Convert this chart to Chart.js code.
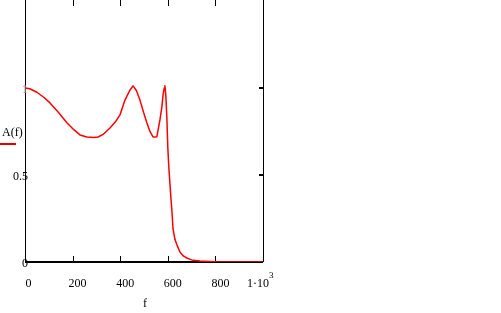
<!DOCTYPE html>
<html><head><meta charset="utf-8">
<script src="https://cdn.jsdelivr.net/npm/chart.js@4/dist/chart.umd.min.js"></script>
<style>html,body{margin:0;padding:0;background:#fff}#wrap{width:501px;height:313px;position:relative}</style>
</head><body><div id="wrap"><canvas id="c" width="501" height="313"></canvas></div>
<script>
const freqs = [0,20,50,80,105,140,176,205,231,260,290,307,330,357,380,399,420,440,454,468,483,498,512,525,538,554,567,575,580,585,588,592,596,600,604,609,613,617,622,630,638,651,665,680,700,735,800,900,1000];
const amps  = [1.0,0.995,0.975,0.945,0.914,0.86,0.80,0.76,0.73,0.718,0.715,0.718,0.735,0.77,0.805,0.845,0.93,0.985,1.012,0.985,0.93,0.86,0.80,0.75,0.718,0.72,0.816,0.89,0.96,1.0,1.012,0.95,0.83,0.66,0.55,0.45,0.37,0.30,0.19,0.13,0.10,0.057,0.035,0.023,0.012,0.006,0.001,0,0];
const xTicks = [0,200,400,600,800,1000];
const xTickLabels = ["0","200","400","600","800","1·10"];
const yTicks = [0,0.5,1];
const yTickLabels = ["0","0.5","1"];
const seriesName = "A(f)";
const xTitle = "f";

const FONT = '12px "Liberation Serif", "DejaVu Serif", serif';
const axesPlugin = {
  id: 'mcadAxes',
  beforeDatasetsDraw(chart) {
    const ctx = chart.ctx, a = chart.chartArea, xs = chart.scales.x, ys = chart.scales.y;
    ctx.save();
    ctx.strokeStyle = '#000';
    ctx.lineWidth = 1;
    ctx.beginPath();
    ctx.moveTo(a.left + 0.5, a.top); ctx.lineTo(a.left + 0.5, a.bottom);
    ctx.moveTo(a.right + 0.5, a.top); ctx.lineTo(a.right + 0.5, a.bottom);
    ctx.stroke();
    ctx.lineWidth = 2;
    ctx.beginPath();
    const y0 = ys.getPixelForValue(0);
    ctx.moveTo(a.left, y0); ctx.lineTo(a.right, y0);
    ctx.stroke();
    ctx.lineWidth = 1;
    ctx.beginPath();
    xTicks.slice(1, -1).forEach(v => {
      const px = Math.round(xs.getPixelForValue(v)) + 0.5;
      ctx.moveTo(px, a.top); ctx.lineTo(px, a.top + 6);
      ctx.moveTo(px, y0); ctx.lineTo(px, y0 - 6);
    });
    ctx.stroke();
    ctx.lineWidth = 2;
    ctx.beginPath();
    yTicks.slice(1).forEach(v => {
      const py = ys.getPixelForValue(v);
      ctx.moveTo(a.right, py); ctx.lineTo(a.right - 4, py);
    });
    ctx.stroke();
    ctx.fillStyle = '#000';
    ctx.font = FONT;
    ctx.textBaseline = 'middle';
    ctx.textAlign = 'center';
    xTicks.forEach((v, i) => {
      const px = xs.getPixelForValue(v) + 5;
      if (i === xTicks.length - 1) {
        ctx.textAlign = 'right';
        ctx.fillText(xTickLabels[i], a.right + 6, 284);
        ctx.font = '9px "Liberation Serif", serif';
        ctx.textAlign = 'left';
        ctx.fillText("3", a.right + 6, 276);
        ctx.font = FONT;
        ctx.textAlign = 'center';
      } else {
        ctx.fillText(xTickLabels[i], i === 0 ? px - 1.5 : px, 284);
      }
    });
    ctx.fillText(xTitle, (a.left + a.right) / 2 + 1, 304);
    ctx.textAlign = 'right';
    yTicks.forEach((v, i) => {
      const py = ys.getPixelForValue(v) + 2;
      ctx.fillStyle = i === 2 ? '#888' : '#000';
      ctx.fillText(yTickLabels[i], a.left + 3, py);
    });
    ctx.fillStyle = '#000';
    ctx.textAlign = 'left';
    ctx.fillText(seriesName, 2, 133);
    ctx.strokeStyle = '#e00000';
    ctx.lineWidth = 2;
    ctx.beginPath(); ctx.moveTo(0, 144); ctx.lineTo(16, 144); ctx.stroke();
    ctx.restore();
  }
};

new Chart(document.getElementById('c'), {
  type: 'line',
  data: { datasets: [{ label: seriesName, data: freqs.map((f, i) => ({x: f, y: amps[i]})),
    borderColor: '#ff0000', borderWidth: 1.5, pointRadius: 0, tension: 0, fill: false,
    borderJoinStyle: 'round' }] },
  options: {
    responsive: false, animation: false, devicePixelRatio: 1,
    layout: { padding: { left: 25, right: 238, top: 0, bottom: 51 } },
    plugins: { legend: { display: false }, tooltip: { enabled: false } },
    scales: {
      x: { type: 'linear', min: 0, max: 1000, display: false },
      y: { type: 'linear', min: 0, max: 1.505, display: false }
    }
  },
  plugins: [axesPlugin]
});
</script></body></html>
